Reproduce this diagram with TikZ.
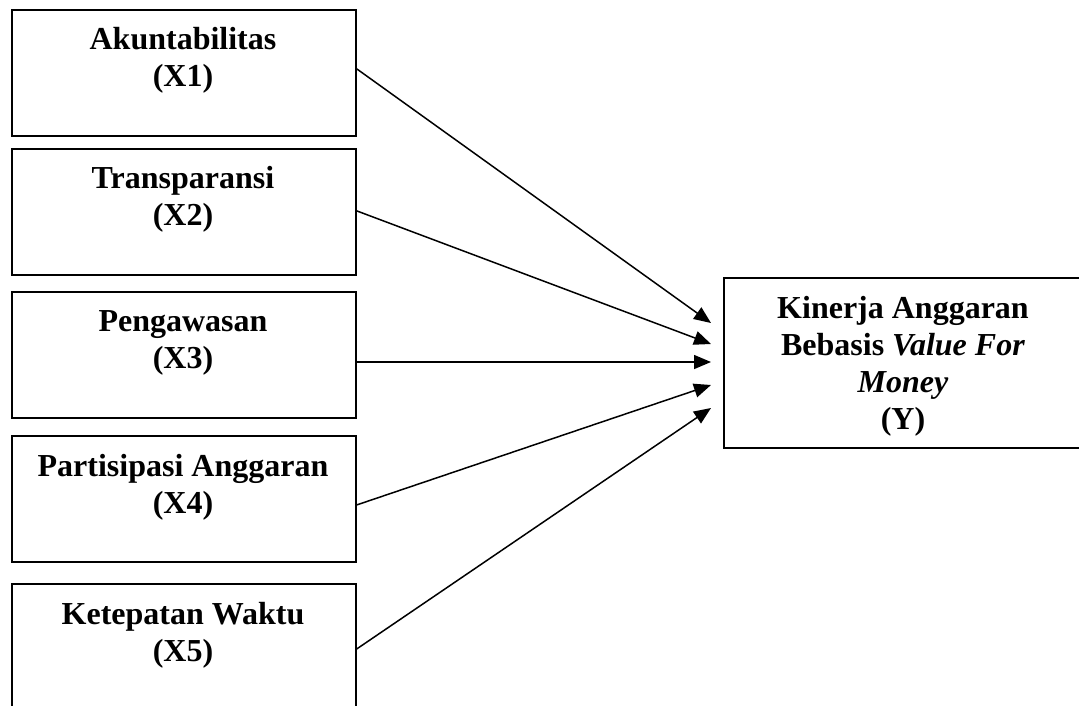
\documentclass[tikz,border=0pt]{standalone}
\usepackage{fontspec}
\setmainfont{Liberation Serif}
\usetikzlibrary{arrows.meta}
\begin{document}
\begin{tikzpicture}[x=1pt,y=-1pt,
  box/.style={draw,line width=1.8pt,rectangle,minimum width=344pt,minimum height=126pt,inner sep=0pt,anchor=north west},
  lbl/.style={font=\fontsize{32}{37}\selectfont\bfseries,align=center,anchor=base,inner sep=0pt},
  arr/.style={line width=1.5pt,-{Triangle[length=17pt,width=14pt]}}]
\useasboundingbox (0,0) rectangle (1079,705);
\begin{scope}
\clip (0,0) rectangle (1079,705);
\node[box] (b1) at (11,9) {};
\node[box] (b2) at (11,148) {};
\node[box] (b3) at (11,291) {};
\node[box] (b4) at (11,435) {};
\node[box] (b5) at (11,583) {};
\node[box,minimum width=360pt,minimum height=170pt] (y) at (723,277) {};
\end{scope}
\node[lbl] (t1) at (183,86) {Akuntabilitas\\(X1)};
\node[lbl] (t2) at (183,225) {Transparansi\\(X2)};
\node[lbl] (t3) at (183,368) {Pengawasan\\(X3)};
\node[lbl] (t4) at (183,513) {Partisipasi Anggaran\\(X4)};
\node[lbl] (t5) at (183,661) {Ketepatan Waktu\\(X5)};
\node[lbl] (ty) at (903,429) {Kinerja Anggaran\\Bebasis \textit{Value For}\\\textit{Money}\\(Y)};
\coordinate (e1) at (711,323);
\coordinate (e2) at (711,344);
\coordinate (e3) at (711,362);
\coordinate (e4) at (711,385);
\coordinate (e5) at (711,408);
\draw[arr] ([yshift=4pt]b1.east) -- (e1);
\draw[arr] ([yshift=1pt]b2.east) -- (e2);
\draw[arr] (b3.east |- e3) -- (e3);
\draw[arr] ([yshift=-6pt]b4.east) -- (e4);
\draw[arr] ([yshift=-2pt]b5.east) -- (e5);
\end{tikzpicture}
\end{document}
